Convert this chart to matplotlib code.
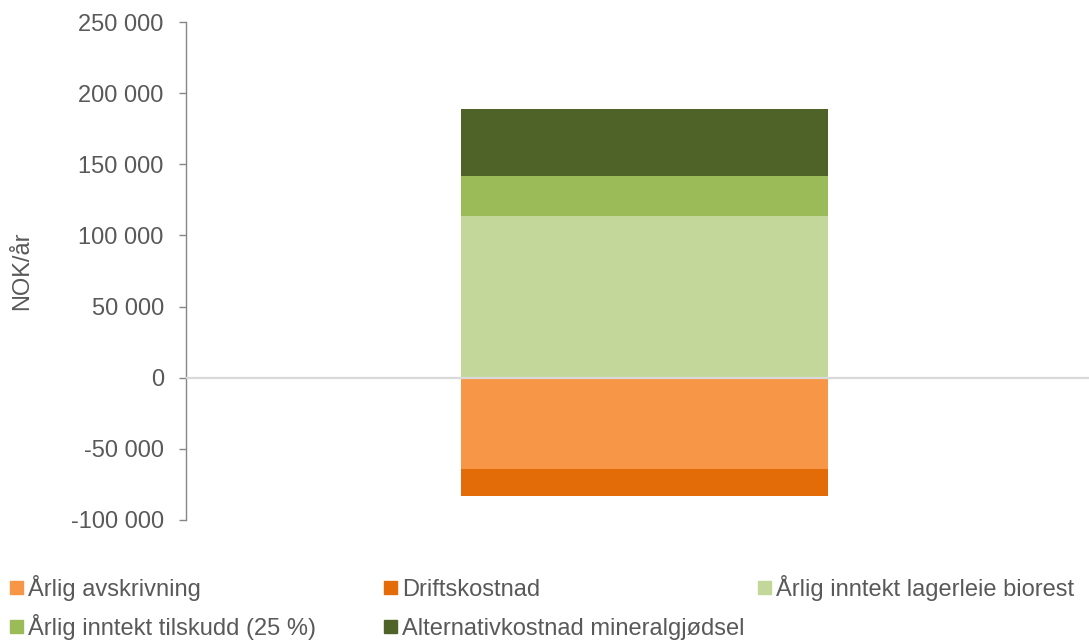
import matplotlib.pyplot as plt
from matplotlib.patches import Rectangle
from matplotlib.ticker import FuncFormatter

plt.rcParams['font.family'] = ['Liberation Sans', 'DejaVu Sans']

# data (NOK/år)
series = ['Årlig avskrivning', 'Driftskostnad', 'Årlig inntekt lagerleie biorest',
          'Årlig inntekt tilskudd (25 %)', 'Alternativkostnad mineralgjødsel']
values = [-64000, -19000, 114000, 28000, 47000]
colors = ['#F79646', '#E36C09', '#C4D79B', '#9BBB59', '#4F6228']

W, H = 1089, 640
fig = plt.figure(figsize=(W / 100, H / 100), dpi=100)
ax = fig.add_axes([0.1708, 0.1875, 0.8292, 0.7781])

pos_base = 0
neg_base = 0
for name, v, c in zip(series, values, colors):
    if v >= 0:
        ax.bar(0, v, bottom=pos_base, width=0.406, color=c, label=name, zorder=2)
        pos_base += v
    else:
        ax.bar(0, v, bottom=neg_base, width=0.406, color=c, label=name, zorder=2)
        neg_base += v

ax.set_xlim(-0.508, 0.492)
ax.set_ylim(-100000, 250000)
ax.set_yticks(range(-100000, 250001, 50000))
ax.yaxis.set_major_formatter(FuncFormatter(lambda v, p: f'{int(v):,}'.replace(',', ' ')))
ax.axhline(0, color='#D9D9D9', lw=1.6, zorder=3)

for s in ['top', 'right', 'bottom']:
    ax.spines[s].set_visible(False)
ax.spines['left'].set_color('#868686')
ax.spines['left'].set_linewidth(1.0)
ax.set_xticks([])
ax.tick_params(axis='y', colors='#868686', labelcolor='#595959', labelsize=17,
               length=5, width=1.0, pad=11)
ax.set_ylabel('NOK/år', fontsize=17, color='#595959', labelpad=27)

# legend, row by row in 3 columns (pixel layout of the original)
col_px = [10, 384, 758]
row_base_px = [596, 635]
for i, (name, c) in enumerate(zip(series, colors)):
    x = col_px[i % 3]
    yb = row_base_px[i // 3]
    fig.patches.append(Rectangle((x / W, (H - yb + 2) / H), 13 / W, 13 / H,
                                 transform=fig.transFigure, color=c, figure=fig))
    fig.text((x + 18) / W, (H - yb) / H, name, fontsize=17, color='#595959',
             va='baseline', ha='left')

fig.savefig('out.png', dpi=100)
